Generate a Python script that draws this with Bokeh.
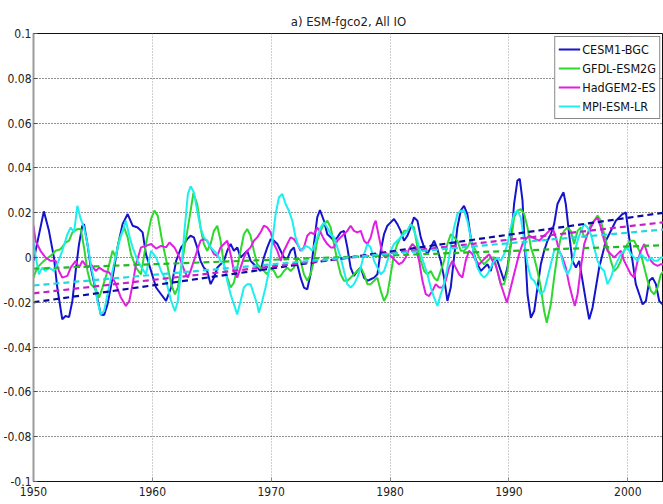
from bokeh.plotting import figure
from bokeh.models import FixedTicker, CustomJSTickFormatter, Range1d, Legend
from bokeh.embed import file_html
from bokeh.resources import INLINE

# ---------------- data (year, anomaly) ----------------
cesm = [
    (1950.0, -0.0015), (1950.87, 0.0206), (1951.30, 0.0119), (1951.72, 0.0), (1952.0, -0.0134),
    (1952.42, -0.0276), (1952.70, -0.0261), (1952.99, -0.0266), (1953.27, -0.0194), (1953.55, -0.0060),
    (1953.83, 0.0060), (1954.11, 0.0142), (1954.25, 0.0149), (1954.54, 0.0060), (1954.82, -0.0045),
    (1955.24, -0.0149), (1955.66, -0.0254), (1955.94, -0.0257), (1956.23, -0.0209), (1956.65, -0.0090),
    (1957.07, 0.0045), (1957.49, 0.0149), (1957.92, 0.0194), (1958.34, 0.0142), (1958.76, 0.0134),
    (1959.18, 0.0112), (1959.46, 0.0015), (1959.89, -0.0060), (1960.31, -0.0134), (1960.73, -0.0164),
    (1961.15, -0.0194), (1961.58, -0.0134), (1962.0, -0.0015), (1962.42, 0.0045), (1962.65, 0.0060),
    (1962.93, 0.0082), (1963.21, 0.0097), (1963.49, 0.0090), (1963.77, 0.0045), (1964.05, -0.0015),
    (1964.33, -0.0045), (1964.61, -0.0060), (1964.90, -0.0119), (1965.18, -0.0090), (1965.46, -0.0045),
    (1965.74, -0.0030), (1966.02, -0.0015), (1966.30, 0.0030), (1966.58, 0.0060), (1966.86, 0.0030),
    (1967.14, 0.0045), (1967.42, 0.0), (1967.70, 0.0015), (1967.98, 0.0030), (1968.26, -0.0015),
    (1968.54, -0.0030), (1968.82, -0.0045), (1969.10, -0.0060), (1969.38, 0.0), (1969.67, 0.0045),
    (1969.95, 0.0082), (1970.23, 0.0075), (1970.51, 0.0060), (1970.79, 0.0030), (1971.07, 0.0),
    (1971.35, -0.0007), (1971.63, 0.0030), (1971.91, 0.0045), (1972.19, -0.0030), (1972.47, -0.0090),
    (1972.75, -0.0134), (1973.03, -0.0142), (1973.31, -0.0075), (1973.59, 0.0060), (1973.87, 0.0179),
    (1974.10, 0.0212), (1974.43, 0.0164), (1974.72, 0.0104), (1975.0, 0.0090), (1975.28, 0.0075),
    (1975.56, 0.0090), (1975.84, 0.0112), (1976.12, 0.0119), (1976.40, 0.0045), (1976.68, -0.0045),
    (1976.96, -0.0082), (1977.24, -0.0060), (1977.53, -0.0045), (1977.81, -0.0090), (1978.09, -0.0104),
    (1978.37, -0.0097), (1978.65, -0.0090), (1978.93, -0.0075), (1979.21, 0.0030), (1979.49, 0.0104),
    (1979.77, 0.0142), (1980.05, 0.0157), (1980.33, 0.0172), (1980.61, 0.0149), (1980.89, 0.0119),
    (1981.17, 0.0075), (1981.45, 0.0097), (1981.73, 0.0134), (1982.01, 0.0179), (1982.30, 0.0164),
    (1982.58, 0.0090), (1982.86, 0.0045), (1983.14, 0.0015), (1983.42, 0.0045), (1983.70, 0.0075),
    (1983.98, 0.0037), (1984.26, -0.0015), (1984.54, -0.0090), (1984.82, -0.0194), (1985.10, -0.0134),
    (1985.38, 0.0), (1985.66, 0.0134), (1985.94, 0.0209), (1986.22, 0.0231), (1986.50, 0.0194),
    (1986.78, 0.0090), (1987.06, 0.0015), (1987.35, -0.0030), (1987.63, -0.0060), (1987.91, -0.0045),
    (1988.19, -0.0030), (1988.47, -0.0060), (1988.75, 0.0), (1989.03, -0.0015), (1989.31, -0.0060),
    (1989.59, -0.0104), (1989.87, -0.0045), (1990.15, 0.0060), (1990.43, 0.0239), (1990.71, 0.0343),
    (1990.91, 0.0351), (1991.14, 0.0254), (1991.28, 0.0104), (1991.56, -0.0164), (1991.84, -0.0269),
    (1992.12, -0.0239), (1992.40, -0.0134), (1992.68, -0.0030), (1992.96, 0.0030), (1993.24, 0.0075),
    (1993.52, 0.0104), (1993.80, 0.0149), (1994.08, 0.0239), (1994.36, 0.0269), (1994.59, 0.0291),
    (1994.78, 0.0239), (1995.06, 0.0104), (1995.34, -0.0015), (1995.63, -0.0045), (1995.91, -0.0015),
    (1996.19, -0.0104), (1996.47, -0.0194), (1996.75, -0.0276), (1997.03, -0.0224), (1997.31, -0.0134),
    (1997.59, -0.0045), (1997.87, 0.0015), (1998.15, 0.0075), (1998.43, 0.0104), (1998.71, 0.0134),
    (1998.99, 0.0164), (1999.27, 0.0179), (1999.55, 0.0194), (1999.83, 0.0201), (2000.11, 0.0090),
    (2000.39, -0.0015), (2000.67, -0.0119), (2000.96, -0.0164), (2001.24, -0.0209), (2001.52, -0.0194),
    (2001.80, -0.0104), (2002.08, -0.0090), (2002.36, -0.0119), (2002.64, -0.0194), (2002.92, -0.0209),
]

gfdl = [
    (1950.0, -0.0090), (1950.31, -0.0045), (1950.87, -0.0015), (1951.44, 0.0007), (1951.86, 0.0030),
    (1952.28, 0.0037), (1952.70, 0.0067), (1952.99, 0.0075), (1953.27, 0.0112), (1953.69, 0.0127),
    (1953.97, 0.0127), (1954.25, 0.0045), (1954.54, -0.0060), (1954.82, -0.0119), (1955.24, -0.0142),
    (1955.52, -0.0179), (1955.80, -0.0134), (1956.23, -0.0060), (1956.65, 0.0030), (1956.93, 0.0),
    (1957.21, 0.0082), (1957.63, 0.0134), (1957.92, 0.0090), (1958.20, 0.0015), (1958.62, -0.0045),
    (1959.04, -0.0075), (1959.46, 0.0060), (1959.89, 0.0172), (1960.17, 0.0209), (1960.45, 0.0187),
    (1960.87, 0.0060), (1961.30, -0.0045), (1961.58, -0.0119), (1961.90, -0.0165), (1962.14, -0.0134),
    (1962.42, -0.0045), (1962.85, 0.0090), (1963.13, 0.0179), (1963.45, 0.0288), (1963.77, 0.0239),
    (1964.05, 0.0134), (1964.33, 0.0060), (1964.61, 0.0030), (1964.90, 0.0060), (1965.18, 0.0119),
    (1965.46, 0.0142), (1965.74, 0.0075), (1966.02, -0.0030), (1966.30, -0.0090), (1966.58, -0.0134),
    (1966.86, -0.0112), (1967.14, -0.0045), (1967.42, 0.0030), (1967.70, 0.0104), (1967.98, 0.0127),
    (1968.26, 0.0097), (1968.54, 0.0030), (1968.82, -0.0030), (1969.10, -0.0045), (1969.38, -0.0060),
    (1969.67, -0.0075), (1969.95, -0.0045), (1970.23, -0.0060), (1970.51, -0.0090), (1970.79, -0.0082),
    (1971.07, -0.0060), (1971.35, -0.0045), (1971.63, -0.0060), (1971.91, -0.0045), (1972.19, 0.0),
    (1972.47, -0.0015), (1972.75, -0.0075), (1973.03, -0.0104), (1973.31, -0.0075), (1973.59, -0.0015),
    (1973.87, 0.0075), (1974.15, 0.0119), (1974.43, 0.0149), (1974.72, 0.0164), (1975.0, 0.0134),
    (1975.28, 0.0060), (1975.56, -0.0015), (1975.84, -0.0075), (1976.12, -0.0104), (1976.40, -0.0104),
    (1976.68, -0.0090), (1976.96, -0.0075), (1977.24, -0.0060), (1977.53, -0.0045), (1977.81, -0.0075),
    (1978.09, -0.0119), (1978.37, -0.0119), (1978.65, -0.0104), (1978.93, -0.0090), (1979.21, -0.0149),
    (1979.49, -0.0194), (1979.77, -0.0164), (1980.05, -0.0075), (1980.33, 0.0015), (1980.61, 0.0060),
    (1980.89, 0.0090), (1981.17, 0.0119), (1981.45, 0.0119), (1981.73, 0.0149), (1982.01, 0.0134),
    (1982.30, 0.0045), (1982.58, -0.0015), (1982.86, -0.0060), (1983.14, -0.0075), (1983.42, -0.0060),
    (1983.70, -0.0090), (1983.98, -0.0104), (1984.26, -0.0060), (1984.54, -0.0015), (1984.82, 0.0060),
    (1985.10, 0.0104), (1985.38, 0.0090), (1985.66, 0.0075), (1985.94, 0.0030), (1986.22, 0.0030),
    (1986.50, 0.0045), (1986.78, 0.0075), (1987.06, 0.0045), (1987.35, 0.0015), (1987.63, -0.0015),
    (1987.91, -0.0030), (1988.19, -0.0015), (1988.47, 0.0), (1988.75, 0.0), (1989.03, -0.0060),
    (1989.31, -0.0119), (1989.59, -0.0119), (1989.87, -0.0060), (1990.15, 0.0060), (1990.43, 0.0179),
    (1990.71, 0.0209), (1990.99, 0.0216), (1991.28, 0.0194), (1991.56, 0.0134), (1991.84, 0.0045),
    (1992.12, 0.0), (1992.40, -0.0060), (1992.68, -0.0134), (1992.96, -0.0239), (1993.18, -0.0291),
    (1993.52, -0.0209), (1993.80, -0.0090), (1994.08, 0.0015), (1994.36, 0.0090), (1994.64, 0.0119),
    (1994.92, 0.0134), (1995.20, 0.0119), (1995.48, 0.0060), (1995.77, 0.0119), (1996.05, 0.0134),
    (1996.33, 0.0090), (1996.61, 0.0104), (1996.89, 0.0149), (1997.17, 0.0164), (1997.45, 0.0187),
    (1997.73, 0.0164), (1998.01, 0.0104), (1998.29, 0.0045), (1998.57, -0.0015), (1998.85, -0.0060),
    (1999.13, -0.0045), (1999.41, -0.0015), (1999.69, 0.0030), (1999.97, 0.0060), (2000.25, 0.0075),
    (2000.53, 0.0075), (2000.82, 0.0045), (2001.10, 0.0015), (2001.38, -0.0045), (2001.66, -0.0104),
    (2001.94, -0.0149), (2002.22, -0.0164), (2002.50, -0.0134), (2002.78, -0.0075), (2003.03, -0.0060),
]

hadgem = [
    (1950.0, 0.0142), (1950.17, 0.0075), (1950.59, 0.0030), (1951.01, 0.0), (1951.44, -0.0015),
    (1951.86, -0.0015), (1952.14, -0.0060), (1952.42, -0.0090), (1952.85, -0.0082), (1953.13, -0.0045),
    (1953.55, -0.0015), (1953.83, -0.0045), (1954.11, -0.0015), (1954.54, -0.0045), (1954.82, -0.0030),
    (1955.24, -0.0060), (1955.52, -0.0045), (1955.94, -0.0060), (1956.37, -0.0067), (1956.65, -0.0090),
    (1956.93, -0.0119), (1957.35, -0.0179), (1957.77, -0.0216), (1958.06, -0.0194), (1958.34, -0.0119),
    (1958.62, -0.0030), (1959.04, 0.0045), (1959.46, 0.0052), (1959.89, 0.0060), (1960.31, 0.0040),
    (1960.73, 0.0052), (1961.15, 0.0045), (1961.44, 0.0067), (1961.86, 0.0045), (1962.28, 0.0),
    (1962.70, -0.0060), (1962.99, -0.0090), (1963.21, -0.0060), (1963.49, -0.0015), (1963.77, 0.0030),
    (1964.05, 0.0075), (1964.33, 0.0082), (1964.61, 0.0075), (1964.90, 0.0045), (1965.18, 0.0015),
    (1965.46, 0.0007), (1965.74, 0.0045), (1966.02, 0.0060), (1966.30, 0.0075), (1966.58, 0.0015),
    (1966.86, -0.0060), (1967.14, -0.0090), (1967.42, -0.0045), (1967.70, 0.0), (1967.98, 0.0030),
    (1968.26, 0.0045), (1968.54, 0.0075), (1968.82, 0.0090), (1969.10, 0.0112), (1969.38, 0.0142),
    (1969.67, 0.0134), (1969.95, 0.0112), (1970.23, 0.0060), (1970.51, 0.0030), (1970.79, -0.0015),
    (1971.07, 0.0030), (1971.35, 0.0060), (1971.63, 0.0090), (1971.91, 0.0082), (1972.19, 0.0060),
    (1972.47, 0.0030), (1972.75, 0.0045), (1973.03, 0.0097), (1973.31, 0.0112), (1973.59, 0.0104),
    (1973.87, 0.0134), (1974.15, 0.0112), (1974.43, 0.0082), (1974.72, 0.0060), (1975.0, 0.0045),
    (1975.28, 0.0045), (1975.56, 0.0075), (1975.84, 0.0090), (1976.12, 0.0104), (1976.40, 0.0119),
    (1976.68, 0.0142), (1976.96, 0.0119), (1977.24, 0.0112), (1977.53, 0.0119), (1977.81, 0.0075),
    (1978.09, 0.0060), (1978.37, 0.0090), (1978.65, 0.0149), (1978.79, 0.0164), (1979.07, 0.0090),
    (1979.35, 0.0015), (1979.63, 0.0), (1979.91, 0.0015), (1980.19, 0.0), (1980.47, -0.0015),
    (1980.75, -0.0030), (1981.03, -0.0022), (1981.31, 0.0), (1981.59, 0.0037), (1981.87, 0.0060),
    (1982.15, 0.0045), (1982.44, -0.0015), (1982.72, -0.0104), (1983.0, -0.0164), (1983.28, -0.0172),
    (1983.56, -0.0149), (1983.84, -0.0119), (1984.12, -0.0134), (1984.40, -0.0134), (1984.68, -0.0104),
    (1984.96, -0.0045), (1985.24, -0.0015), (1985.52, -0.0045), (1985.80, -0.0075), (1986.08, -0.0090),
    (1986.36, -0.0015), (1986.64, 0.0030), (1986.92, 0.0015), (1987.21, -0.0015), (1987.49, -0.0030),
    (1987.77, -0.0015), (1988.05, 0.0), (1988.33, 0.0015), (1988.61, -0.0015), (1988.75, -0.0015),
    (1989.03, -0.0060), (1989.31, -0.0119), (1989.59, -0.0164), (1989.82, -0.0201), (1990.01, -0.0164),
    (1990.29, -0.0104), (1990.57, -0.0045), (1990.85, 0.0015), (1991.14, 0.0060), (1991.42, 0.0082),
    (1991.70, 0.0097), (1991.98, 0.0090), (1992.26, 0.0082), (1992.54, 0.0075), (1992.82, 0.0090),
    (1993.10, 0.0104), (1993.38, 0.0119), (1993.66, 0.0134), (1993.94, 0.0090), (1994.22, 0.0030),
    (1994.50, 0.0), (1994.78, -0.0045), (1995.06, -0.0119), (1995.34, -0.0179), (1995.54, -0.0216),
    (1995.77, -0.0164), (1996.05, -0.0045), (1996.33, 0.0060), (1996.61, 0.0104), (1996.89, 0.0134),
    (1997.17, 0.0164), (1997.45, 0.0179), (1997.73, 0.0134), (1998.01, 0.0075), (1998.29, 0.0030),
    (1998.57, 0.0015), (1998.85, 0.0), (1999.13, 0.0015), (1999.41, 0.0030), (1999.69, -0.0015),
    (1999.97, -0.0045), (2000.25, -0.0075), (2000.53, -0.0090), (2000.82, -0.0015), (2001.10, 0.0030),
    (2001.38, 0.0060), (2001.66, 0.0015), (2001.94, -0.0015), (2002.22, -0.0030), (2002.50, -0.0037),
    (2002.78, -0.0030), (2003.03, -0.0030),
]

mpi = [
    (1950.0, 0.0075), (1950.10, 0.0030), (1950.45, -0.0075), (1950.73, -0.0045), (1951.01, -0.0060),
    (1951.30, -0.0045), (1951.72, -0.0060), (1952.0, -0.0030), (1952.42, 0.0030), (1952.85, 0.0104),
    (1953.13, 0.0134), (1953.41, 0.0112), (1953.69, 0.0231), (1953.97, 0.0172), (1954.25, 0.0134),
    (1954.54, 0.0060), (1954.82, -0.0030), (1955.10, -0.0104), (1955.38, -0.0194), (1955.66, -0.0254),
    (1955.94, -0.0239), (1956.23, -0.0164), (1956.65, -0.0060), (1957.07, 0.0045), (1957.49, 0.0119),
    (1957.77, 0.0164), (1958.06, 0.0097), (1958.34, 0.0045), (1958.76, -0.0015), (1959.18, -0.0052),
    (1959.46, -0.0075), (1959.89, 0.0030), (1960.31, 0.0), (1960.73, -0.0060), (1961.15, -0.0104),
    (1961.58, -0.0194), (1961.90, -0.0240), (1962.14, -0.0194), (1962.42, -0.0060), (1962.70, 0.0119),
    (1962.99, 0.0284), (1963.22, 0.0318), (1963.49, 0.0291), (1963.77, 0.0209), (1964.05, 0.0134),
    (1964.33, 0.0090), (1964.61, 0.0075), (1964.90, 0.0045), (1965.18, 0.0030), (1965.46, 0.0015),
    (1965.74, -0.0015), (1966.02, -0.0030), (1966.30, -0.0104), (1966.58, -0.0164), (1966.86, -0.0209),
    (1967.14, -0.0254), (1967.42, -0.0194), (1967.70, -0.0134), (1967.98, -0.0119), (1968.26, -0.0119),
    (1968.54, -0.0164), (1968.82, -0.0209), (1968.96, -0.0246), (1969.24, -0.0194), (1969.52, -0.0134),
    (1969.81, -0.0060), (1970.09, 0.0075), (1970.37, 0.0194), (1970.65, 0.0269), (1970.93, 0.0284),
    (1971.21, 0.0239), (1971.49, 0.0209), (1971.77, 0.0164), (1972.05, 0.0090), (1972.33, 0.0045),
    (1972.61, 0.0030), (1972.89, 0.0052), (1973.17, 0.0045), (1973.45, 0.0030), (1973.73, 0.0067),
    (1974.15, 0.0134), (1974.43, 0.0157), (1974.72, 0.0134), (1975.0, 0.0104), (1975.28, 0.0090),
    (1975.56, 0.0045), (1975.84, 0.0), (1976.12, -0.0060), (1976.40, -0.0119), (1976.68, -0.0134),
    (1976.96, -0.0119), (1977.24, -0.0090), (1977.53, -0.0045), (1977.81, 0.0015), (1978.09, 0.0060),
    (1978.37, 0.0045), (1978.65, -0.0015), (1978.93, -0.0045), (1979.21, -0.0075), (1979.49, -0.0060),
    (1979.77, -0.0015), (1980.05, 0.0030), (1980.33, 0.0060), (1980.61, 0.0075), (1980.89, 0.0090),
    (1981.17, 0.0104), (1981.45, 0.0119), (1981.73, 0.0149), (1982.01, 0.0119), (1982.30, 0.0075),
    (1982.58, 0.0015), (1982.86, -0.0030), (1983.14, -0.0075), (1983.42, -0.0134), (1983.70, -0.0179),
    (1983.98, -0.0216), (1984.26, -0.0164), (1984.54, -0.0119), (1984.82, -0.0045), (1985.10, 0.0045),
    (1985.38, 0.0134), (1985.66, 0.0194), (1985.94, 0.0209), (1986.22, 0.0209), (1986.50, 0.0164),
    (1986.78, 0.0090), (1987.06, 0.0015), (1987.35, -0.0045), (1987.63, -0.0075), (1987.91, -0.0090),
    (1988.19, -0.0075), (1988.47, -0.0045), (1988.75, -0.0015), (1989.03, 0.0), (1989.31, -0.0015),
    (1989.59, 0.0015), (1989.87, 0.0060), (1990.15, 0.0134), (1990.43, 0.0194), (1990.71, 0.0209),
    (1990.99, 0.0179), (1991.28, 0.0075), (1991.56, -0.0030), (1991.84, -0.0090), (1992.12, -0.0104),
    (1992.40, -0.0134), (1992.68, -0.0164), (1992.96, -0.0149), (1993.24, -0.0090), (1993.52, -0.0030),
    (1993.80, 0.0030), (1994.08, 0.0045), (1994.36, 0.0015), (1994.64, -0.0045), (1994.92, -0.0075),
    (1995.20, -0.0045), (1995.48, 0.0015), (1995.77, 0.0075), (1996.05, 0.0119), (1996.33, 0.0149),
    (1996.61, 0.0134), (1996.89, 0.0104), (1997.17, 0.0045), (1997.45, -0.0015), (1997.73, -0.0045),
    (1998.01, -0.0060), (1998.29, -0.0119), (1998.57, -0.0090), (1998.85, -0.0045), (1999.13, -0.0015),
    (1999.41, 0.0015), (1999.69, 0.0030), (1999.97, 0.0045), (2000.25, 0.0015), (2000.53, 0.0),
    (2000.82, -0.0015), (2001.10, 0.0015), (2001.38, 0.0), (2001.66, -0.0015), (2001.94, 0.0),
    (2002.22, -0.0015), (2002.50, -0.0015), (2002.78, 0.0), (2003.03, 0.0),
]

# linear trends: value at the two ends of the period
trend_years = [1950, 2003]
cesm_trend = [-0.020, 0.020]
gfdl_trend = [-0.005, 0.0055]
hadgem_trend = [-0.016, 0.0157]
mpi_trend = [-0.0125, 0.0125]

names = ["CESM1-BGC", "GFDL-ESM2G", "HadGEM2-ES", "MPI-ESM-LR"]
colors = ["#1414CC", "#2ED82E", "#E21EE2", "#1EEEEE"]
trend_colors = ["#0A0AA0", "#22B822", "#C81EC8", "#22D8E0"]
series = [cesm, gfdl, hadgem, mpi]
trends = [cesm_trend, gfdl_trend, hadgem_trend, mpi_trend]

x_ticks = [1950, 1960, 1970, 1980, 1990, 2000]
y_ticks = [-0.1, -0.08, -0.06, -0.04, -0.02, 0, 0.02, 0.04, 0.06, 0.08, 0.1]

FONT = "'Liberation Sans Narrow', 'DejaVu Sans Condensed', 'Liberation Sans', sans-serif"

p = figure(width=663, height=504, output_backend="svg", toolbar_location=None,
           x_range=Range1d(1950, 2003), y_range=Range1d(-0.1, 0.1),
           min_border_left=33, min_border_right=0, min_border_top=33, min_border_bottom=23,
           background_fill_color="white", border_fill_color="white")

p.title.text = "a) ESM-fgco2, All IO"
p.title.align = "center"
p.title.text_font = FONT
p.title.text_font_size = "13px"
p.title.text_font_style = "normal"
p.title.text_color = "#222222"
p.title.standoff = 10

p.outline_line_color = "#111111"
p.outline_line_width = 1

# axes
p.xaxis.ticker = FixedTicker(ticks=x_ticks)
p.yaxis.ticker = FixedTicker(ticks=y_ticks)
p.yaxis.formatter = CustomJSTickFormatter(code="return String(Number(tick.toFixed(2)));")
for ax in (p.xaxis[0], p.yaxis[0]):
    ax.major_tick_in = 4
    ax.major_tick_out = 0
    ax.minor_tick_line_color = None
    ax.major_label_text_font = FONT
    ax.major_label_text_font_size = "12px"
    ax.major_label_text_color = "#222222"
    ax.major_label_standoff = 2
p.xaxis.major_label_standoff = 5
p.xaxis.axis_line_color = "#111111"
p.xaxis.major_tick_line_color = "#888888"
p.yaxis.axis_line_color = "#9a9a9a"
p.yaxis.axis_line_width = 2
p.yaxis.major_tick_line_color = "#555555"

# grids
p.xgrid.grid_line_color = "#9a9a9a"
p.xgrid.grid_line_dash = "1 2"
p.xgrid.grid_line_width = 1
p.ygrid.grid_line_color = "#222222"
p.ygrid.grid_line_dash = "1 2"
p.ygrid.grid_line_width = 1

legend_items = []
for name, col, data in zip(names, colors, series):
    xs = [d[0] for d in data]
    ys = [d[1] for d in data]
    r = p.line(xs, ys, line_color=col, line_width=2)
    legend_items.append((name, [r]))

for tcol, tr in zip(trend_colors, trends):
    p.line(trend_years, tr, line_color=tcol, line_width=2.2, line_dash="6 4")

legend = Legend(items=legend_items, location="top_right")
legend.label_text_font = FONT
legend.label_text_font_size = "12.5px"
legend.label_text_color = "#111111"
legend.border_line_color = "#111111"
legend.border_line_width = 1
legend.background_fill_color = "white"
legend.background_fill_alpha = 1
legend.glyph_width = 22
legend.glyph_height = 18
legend.label_height = 18
legend.spacing = 1
legend.padding = 3
legend.margin = 3
legend.label_standoff = 2
p.add_layout(legend)

open("out.html", "w").write(file_html(p, INLINE))
